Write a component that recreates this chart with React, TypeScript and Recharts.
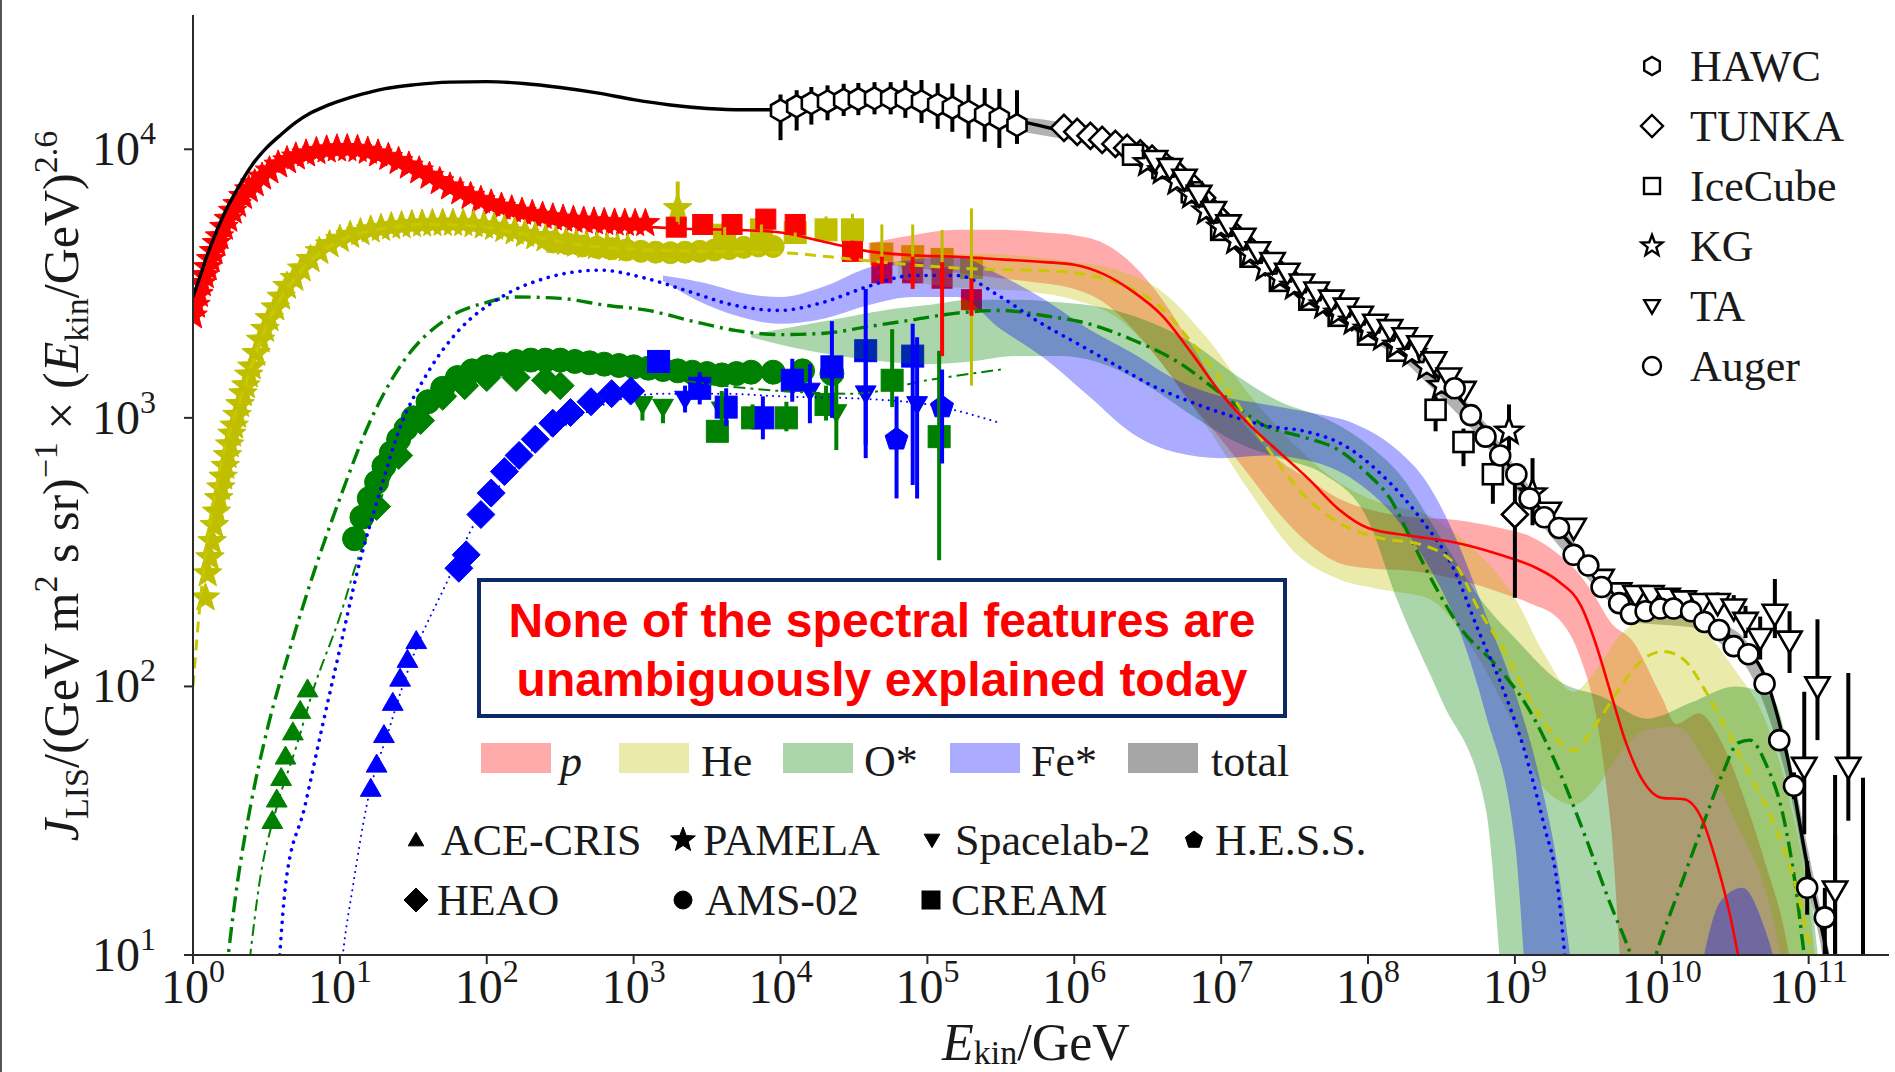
import React from "react";
import { ComposedChart, XAxis, YAxis, Line, Area, Scatter, ErrorBar } from "recharts";

const SERIF = "'Liberation Serif', 'Times New Roman', 'DejaVu Serif', serif";
const SANS = "'Liberation Sans', Arial, 'DejaVu Sans', sans-serif";

// ---------- axes (values are log10 exponents) ----------
const X_TICK_EXP = [0, 1, 2, 3, 4, 5, 6, 7, 8, 9, 10, 11];
const Y_TICK_EXP = [1, 2, 3, 4];
const Y_MINOR_MULT = [2, 3, 4, 5, 6, 7, 8, 9];
const X_DOMAIN_EXP = [0, 11.547];
const Y_DOMAIN_EXP = [1, 4.5];

// ---------- model lines  [log10 E, log10 J] ----------
const TOTAL_LINE = [[0.0,3.45],[0.05,3.53],[0.1,3.61],[0.15,3.68],[0.2,3.745],[0.3,3.85],[0.4,3.94],[0.5,4.005],[0.6,4.055],[0.7,4.1],[0.8,4.135],[0.9,4.16],[1.0,4.18],[1.15,4.205],[1.3,4.225],[1.5,4.24],[1.75,4.25],[2.0,4.252],[2.25,4.245],[2.5,4.23],[2.75,4.21],[3.0,4.185],[3.25,4.165],[3.5,4.152],[3.75,4.147],[4.0,4.147],[4.25,4.16],[4.5,4.175],[4.75,4.18],[5.0,4.172],[5.25,4.155],[5.5,4.12],[5.75,4.09],[6.0,4.055],[6.25,4.01],[6.5,3.96],[6.75,3.88],[7.0,3.72],[7.25,3.6],[7.5,3.5],[7.75,3.42],[8.0,3.33],[8.25,3.25],[8.5,3.14],[8.75,2.99],[9.0,2.79],[9.25,2.61],[9.5,2.46],[9.75,2.31],[10.0,2.27],[10.25,2.25],[10.5,2.17],[10.7,2.04],[10.85,1.75],[11.0,1.31],[11.1,1.07],[11.2,0.8]];
const P_LINE = [[0.0,3.38],[0.15,3.63],[0.3,3.79],[0.5,3.91],[0.7,3.972],[0.9,3.998],[1.1,4.0],[1.3,3.975],[1.5,3.93],[1.7,3.875],[1.9,3.82],[2.1,3.785],[2.4,3.75],[2.7,3.73],[3.0,3.715],[3.3,3.705],[3.7,3.7],[4.0,3.69],[4.3,3.655],[4.6,3.62],[4.9,3.605],[5.2,3.6],[5.5,3.59],[5.8,3.58],[6.0,3.57],[6.2,3.535],[6.4,3.47],[6.6,3.38],[6.8,3.24],[7.0,3.09],[7.2,2.97],[7.4,2.87],[7.6,2.77],[7.8,2.66],[8.0,2.59],[8.3,2.56],[8.6,2.535],[8.9,2.49],[9.15,2.44],[9.3,2.39],[9.45,2.3],[9.55,2.16],[9.65,1.98],[9.75,1.8],[9.87,1.65],[10.0,1.585],[10.15,1.58],[10.27,1.51],[10.38,1.33],[10.46,1.16],[10.52,1.0],[10.6,0.8]];
const HE_LINE = [[0.0,2.0],[0.05,2.32],[0.1,2.55],[0.2,2.85],[0.33,3.08],[0.49,3.33],[0.74,3.55],[1.0,3.66],[1.3,3.705],[1.6,3.72],[1.9,3.715],[2.2,3.69],[2.5,3.655],[2.8,3.635],[3.1,3.625],[3.5,3.62],[4.0,3.615],[4.5,3.59],[5.0,3.565],[5.3,3.555],[5.7,3.55],[6.0,3.54],[6.3,3.5],[6.55,3.43],[6.8,3.28],[7.05,3.1],[7.3,2.9],[7.55,2.72],[7.8,2.61],[8.1,2.55],[8.35,2.53],[8.6,2.45],[8.75,2.29],[8.92,2.14],[9.09,1.96],[9.26,1.82],[9.4,1.76],[9.54,1.85],[9.71,1.99],[9.87,2.1],[10.01,2.13],[10.15,2.1],[10.29,1.99],[10.43,1.85],[10.6,1.67],[10.77,1.48],[10.91,1.26],[11.02,1.0],[11.1,0.8]];
const OSTAR_LINE = [[0.18,0.7],[0.24,1.0],[0.3,1.26],[0.39,1.55],[0.51,1.85],[0.66,2.14],[0.82,2.42],[1.0,2.7],[1.2,2.98],[1.42,3.2],[1.73,3.37],[2.0,3.43],[2.2,3.45],[2.5,3.445],[2.8,3.42],[3.1,3.4],[3.4,3.36],[3.7,3.325],[4.0,3.31],[4.3,3.315],[4.6,3.34],[4.9,3.365],[5.2,3.39],[5.5,3.4],[5.8,3.38],[6.1,3.35],[6.4,3.29],[6.7,3.21],[7.0,3.09],[7.3,2.97],[7.55,2.93],[7.8,2.88],[8.0,2.79],[8.15,2.7],[8.3,2.54],[8.47,2.36],[8.64,2.21],[8.87,2.08],[9.09,1.92],[9.29,1.7],[9.48,1.44],[9.65,1.19],[9.79,1.0],[9.88,0.85],[9.96,1.0],[10.13,1.26],[10.27,1.47],[10.41,1.67],[10.52,1.79],[10.6,1.8],[10.71,1.71],[10.83,1.51],[10.91,1.26],[10.97,1.0],[11.05,0.7]];
const O_LINE = [[0.33,0.7],[0.39,1.0],[0.45,1.26],[0.57,1.55],[0.7,1.77],[0.82,1.99],[1.0,2.26],[1.12,2.47],[1.25,2.66],[1.45,2.9],[1.7,3.07],[2.0,3.16],[2.4,3.19],[2.8,3.18],[3.2,3.15],[3.6,3.12],[4.0,3.1],[4.5,3.09],[5.0,3.14],[5.5,3.18]];
const FESTAR_LINE = [[0.55,0.7],[0.59,1.0],[0.63,1.26],[0.76,1.55],[0.88,1.85],[1.0,2.14],[1.12,2.43],[1.27,2.72],[1.4,2.95],[1.6,3.17],[1.8,3.32],[2.1,3.45],[2.4,3.52],[2.77,3.55],[3.08,3.52],[3.38,3.47],[3.68,3.42],[3.99,3.4],[4.29,3.43],[4.6,3.49],[4.9,3.53],[5.2,3.53],[5.5,3.45],[5.75,3.36],[6.01,3.28],[6.27,3.2],[6.53,3.12],[6.79,3.06],[7.05,3.01],[7.31,2.97],[7.57,2.95],[7.83,2.9],[8.09,2.79],[8.35,2.63],[8.59,2.43],[8.75,2.21],[8.92,1.99],[9.06,1.77],[9.2,1.48],[9.29,1.26],[9.34,1.0],[9.4,0.7]];
const FE_LINE = [[0.97,0.7],[1.02,1.0],[1.09,1.26],[1.18,1.55],[1.34,1.85],[1.49,2.1],[1.73,2.39],[1.91,2.6],[2.2,2.82],[2.5,2.96],[2.8,3.05],[3.2,3.09],[3.6,3.09],[4.0,3.08],[4.6,3.07],[5.0,3.05],[5.5,2.98]];

// ---------- uncertainty bands  [log10 E, log10 low, log10 high] ----------
const P_BAND = [[4.6,3.58,3.65],[4.9,3.56,3.68],[5.2,3.54,3.7],[5.5,3.52,3.7],[5.8,3.5,3.69],[6.0,3.48,3.68],[6.2,3.43,3.65],[6.4,3.33,3.57],[6.6,3.2,3.44],[6.8,3.05,3.27],[7.0,2.92,3.09],[7.2,2.78,2.95],[7.4,2.64,2.84],[7.6,2.53,2.77],[7.8,2.46,2.7],[8.0,2.44,2.66],[8.3,2.43,2.63],[8.6,2.4,2.62],[8.9,2.35,2.59],[9.1,2.31,2.56],[9.3,2.25,2.49],[9.45,2.1,2.41],[9.55,1.9,2.33],[9.65,1.5,2.24],[9.8,0.5,2.17],[10.0,0.5,1.96],[10.1,0.5,1.86],[10.25,0.5,1.9],[10.4,0.5,1.8],[10.55,0.5,1.6],[10.7,0.5,1.35],[10.85,0.5,1.05],[10.95,0.5,0.7]];
const HE_BAND = [[4.8,3.52,3.58],[5.1,3.49,3.61],[5.4,3.48,3.61],[5.7,3.47,3.6],[6.0,3.44,3.58],[6.3,3.37,3.55],[6.6,3.2,3.47],[6.9,2.97,3.3],[7.2,2.72,3.08],[7.5,2.5,2.9],[7.8,2.4,2.76],[8.1,2.36,2.68],[8.4,2.33,2.64],[8.7,2.15,2.52],[9.0,1.85,2.33],[9.2,1.62,2.12],[9.4,1.56,1.98],[9.55,1.62,2.06],[9.7,1.74,2.18],[9.9,1.84,2.26],[10.1,1.85,2.28],[10.3,1.72,2.2],[10.5,1.5,2.06],[10.7,1.25,1.88],[10.85,0.9,1.62],[11.0,0.5,1.2],[11.08,0.5,0.8]];
const O_BAND = [[3.8,3.3,3.31],[4.1,3.26,3.34],[4.4,3.23,3.37],[4.7,3.21,3.4],[5.0,3.2,3.42],[5.3,3.21,3.44],[5.6,3.23,3.44],[5.9,3.23,3.43],[6.2,3.2,3.41],[6.5,3.12,3.36],[6.8,3.01,3.28],[7.1,2.91,3.16],[7.4,2.85,3.06],[7.7,2.79,3.0],[8.0,2.62,2.9],[8.2,2.32,2.8],[8.5,1.95,2.55],[8.8,1.55,2.3],[9.0,0.5,2.18],[9.3,0.5,2.02],[9.6,0.5,1.96],[9.9,0.5,1.88],[10.2,0.5,1.94],[10.5,0.5,2.0],[10.75,0.5,1.96],[10.9,0.5,1.65],[11.0,0.5,1.3],[11.1,0.5,0.8]];
const FE_BAND = [[3.2,3.51,3.53],[3.5,3.42,3.5],[3.7,3.38,3.47],[4.0,3.35,3.45],[4.3,3.37,3.49],[4.6,3.42,3.56],[4.9,3.45,3.59],[5.2,3.45,3.6],[5.5,3.33,3.53],[5.8,3.22,3.44],[6.1,3.08,3.33],[6.4,2.94,3.24],[6.7,2.87,3.14],[7.0,2.85,3.08],[7.3,2.86,3.05],[7.6,2.84,3.02],[7.9,2.77,2.98],[8.2,2.62,2.88],[8.4,2.46,2.76],[8.6,2.24,2.55],[8.8,1.9,2.27],[9.0,1.42,1.98],[9.15,0.5,1.7],[9.3,0.5,1.3],[9.42,0.5,0.8]];
const FE_BAND_HIGH = [[10.25,0.5,0.9],[10.4,0.5,1.2],[10.55,0.5,1.25],[10.7,0.5,1.1],[10.85,0.5,0.8]];
const TOTAL_BAND = [[5.4,4.1,4.14],[5.6,4.07,4.12],[5.8,4.05,4.11],[6.0,4.03,4.09],[6.2,4.0,4.06],[6.4,3.96,4.02],[6.6,3.9,3.97],[6.8,3.81,3.89],[7.0,3.68,3.76],[7.2,3.58,3.65],[7.4,3.49,3.56],[7.6,3.42,3.49],[7.8,3.36,3.43],[8.0,3.29,3.36],[8.2,3.23,3.3],[8.4,3.13,3.21],[8.6,3.02,3.1],[8.8,2.9,2.98],[9.0,2.74,2.82],[9.2,2.59,2.67],[9.4,2.46,2.54],[9.6,2.34,2.42],[9.8,2.24,2.32],[10.0,2.23,2.31],[10.2,2.22,2.3],[10.4,2.16,2.24],[10.6,2.05,2.15],[10.8,1.76,1.88],[10.9,1.54,1.66],[11.0,1.25,1.38],[11.1,0.98,1.12],[11.15,0.8,0.98]];

// ---------- direct measurements [log10 E, log10 J, (err low, err high)] ----------
const PAMELA_P = [[0.0,3.38],[0.02,3.42],[0.04,3.46],[0.06,3.5],[0.08,3.53],[0.1,3.56],[0.12,3.59],[0.14,3.62],[0.16,3.65],[0.18,3.675],[0.21,3.71],[0.24,3.74],[0.27,3.77],[0.3,3.795],[0.34,3.825],[0.38,3.85],[0.42,3.872],[0.47,3.897],[0.52,3.92],[0.58,3.942],[0.64,3.958],[0.7,3.972],[0.77,3.983],[0.84,3.992],[0.91,3.998],[0.98,4.002],[1.05,4.003],[1.12,4.0],[1.19,3.993],[1.26,3.983],[1.33,3.97],[1.4,3.955],[1.47,3.938],[1.54,3.92],[1.61,3.9],[1.68,3.88],[1.75,3.86],[1.82,3.842],[1.89,3.825],[1.96,3.81],[2.03,3.797],[2.1,3.785],[2.17,3.775],[2.24,3.766],[2.31,3.758],[2.38,3.751],[2.45,3.745],[2.52,3.74],[2.59,3.736],[2.66,3.733],[2.73,3.73],[2.8,3.728],[2.87,3.726],[2.94,3.725],[3.01,3.724],[3.08,3.724]];
const PAMELA_HE = [[0.085,2.33],[0.1,2.42],[0.115,2.48],[0.13,2.54],[0.145,2.6],[0.16,2.65],[0.175,2.7],[0.19,2.74],[0.205,2.78],[0.22,2.82],[0.235,2.86],[0.25,2.9],[0.265,2.94],[0.28,2.97],[0.3,3.01],[0.32,3.05],[0.34,3.09],[0.36,3.12],[0.38,3.16],[0.4,3.19],[0.43,3.24],[0.46,3.29],[0.49,3.33],[0.52,3.37],[0.56,3.41],[0.6,3.45],[0.64,3.49],[0.69,3.52],[0.74,3.555],[0.8,3.59],[0.86,3.62],[0.93,3.645],[1.0,3.665],[1.07,3.68],[1.14,3.69],[1.21,3.7],[1.28,3.706],[1.35,3.712],[1.42,3.716],[1.49,3.72],[1.56,3.722],[1.63,3.724],[1.7,3.725],[1.77,3.725],[1.84,3.724],[1.91,3.72],[1.98,3.715],[2.05,3.71],[2.12,3.702],[2.19,3.693],[2.26,3.684],[2.33,3.675],[2.4,3.667],[2.47,3.66],[2.54,3.653],[2.61,3.647],[2.68,3.642],[2.75,3.638],[2.82,3.635],[2.89,3.632],[2.96,3.63]];
const PAMELA_HE_HIGH = [[3.3,3.78,3.72,3.88]];
const AMS_HE = [[2.45,3.655],[2.55,3.648],[2.65,3.64],[2.75,3.635],[2.85,3.63],[2.95,3.625],[3.05,3.62],[3.15,3.617],[3.25,3.615],[3.35,3.617],[3.45,3.62],[3.55,3.625],[3.65,3.63],[3.75,3.635],[3.85,3.64],[3.95,3.638]];
const CREAM_HE = [[3.62,3.68,3.66,3.71],[3.87,3.7,3.68,3.72],[4.1,3.69,3.67,3.72],[4.31,3.7,3.66,3.75],[4.49,3.7,3.63,3.76],[4.69,3.61,3.57,3.72],[4.9,3.6,3.55,3.72],[5.1,3.59,3.52,3.7],[5.3,3.56,3.12,3.78]];
const CREAM_P = [[3.29,3.71,3.69,3.73],[3.47,3.72,3.7,3.74],[3.67,3.72,3.7,3.75],[3.9,3.74,3.71,3.77],[4.1,3.72,3.69,3.75],[4.49,3.62,3.59,3.66],[4.69,3.54,3.5,3.6],[4.9,3.54,3.48,3.6],[5.1,3.52,3.23,3.58],[5.3,3.44,3.38,3.52]];
const AMS_O = [[1.1,2.55],[1.15,2.63],[1.2,2.7],[1.25,2.76],[1.3,2.82],[1.35,2.87],[1.4,2.92],[1.45,2.96],[1.5,3.0],[1.6,3.06],[1.7,3.11],[1.8,3.15],[1.9,3.175],[2.0,3.19],[2.1,3.2],[2.2,3.21],[2.3,3.215],[2.4,3.215],[2.5,3.215],[2.6,3.21],[2.7,3.205],[2.8,3.2],[2.9,3.195],[3.0,3.19],[3.1,3.185],[3.2,3.18],[3.3,3.175],[3.4,3.17],[3.5,3.165],[3.6,3.16],[3.7,3.165],[3.8,3.17],[3.95,3.17],[4.15,3.175],[4.35,3.165]];
const HEAO_O = [[1.25,2.67],[1.4,2.86],[1.55,2.99],[1.7,3.08],[1.85,3.12],[2.0,3.15],[2.2,3.15],[2.4,3.14],[2.5,3.12]];
const ACE_O = [[0.54,1.5],[0.57,1.58],[0.6,1.66],[0.63,1.74],[0.68,1.83],[0.73,1.91],[0.78,1.99]];
const CREAM_O = [[3.57,2.95,2.92,2.99],[3.81,3.0,2.96,3.05],[4.04,3.0,2.95,3.06],[4.31,3.05,2.99,3.12],[4.76,3.14,3.04,3.33],[5.08,2.93,2.47,3.25]];
const SPACELAB_O = [[3.06,3.05,2.99,3.08],[3.2,3.04,2.98,3.07],[3.6,3.03,2.97,3.1],[4.38,3.02,2.88,3.13]];
const ACE_FE = [[1.21,1.62],[1.25,1.71],[1.3,1.82],[1.36,1.94],[1.41,2.03],[1.46,2.1],[1.52,2.17]];
const HEAO_FE = [[1.81,2.44],[1.86,2.49],[1.96,2.64],[2.03,2.72],[2.12,2.8],[2.22,2.86],[2.33,2.92],[2.45,2.98],[2.57,3.02],[2.71,3.06],[2.85,3.09],[2.98,3.1]];
const CREAM_FE = [[3.17,3.21,3.17,3.25],[3.45,3.11,3.05,3.17],[3.63,3.04,2.97,3.11],[3.88,3.0,2.92,3.08],[4.08,3.14,3.06,3.22],[4.35,3.19,3.0,3.36],[4.58,3.25,2.9,3.48],[4.9,3.23,2.75,3.35]];
const SPACELAB_FE = [[3.35,3.07,3.02,3.12],[4.2,3.1,2.98,3.2],[4.58,3.09,2.85,3.28],[4.93,3.05,2.7,3.3]];
const HESS_FE = [[4.79,2.92,2.7,3.08],[5.1,3.04,2.83,3.18]];

// ---------- air-shower data ----------
const HAWC = [[4.0,4.144,4.034,4.204],[4.11,4.16,4.07,4.22],[4.21,4.172,4.092,4.232],[4.32,4.178,4.108,4.238],[4.43,4.184,4.124,4.244],[4.53,4.187,4.127,4.247],[4.64,4.19,4.13,4.25],[4.75,4.19,4.13,4.25],[4.85,4.187,4.117,4.257],[4.96,4.178,4.098,4.258],[5.07,4.166,4.076,4.246],[5.17,4.155,4.065,4.245],[5.28,4.14,4.04,4.24],[5.39,4.128,4.028,4.228],[5.49,4.115,4.005,4.225],[5.61,4.09,4.02,4.22]];
const TUNKA = [[5.93,4.08,4.08,4.08],[6.02,4.065,4.065,4.065],[6.11,4.05,4.05,4.05],[6.19,4.035,4.035,4.035],[6.28,4.02,4.02,4.02],[6.36,4.005,4.005,4.005],[6.45,3.985,3.985,3.985],[6.53,3.965,3.965,3.965],[6.62,3.94,3.94,3.94],[6.7,3.91,3.91,3.91],[6.79,3.87,3.87,3.87],[6.87,3.82,3.82,3.82],[6.96,3.76,3.76,3.76],[7.04,3.71,3.71,3.71],[7.13,3.66,3.66,3.66],[7.21,3.62,3.62,3.62],[7.3,3.58,3.58,3.58],[7.38,3.55,3.55,3.55],[7.47,3.515,3.515,3.515],[7.55,3.485,3.485,3.485],[7.64,3.455,3.455,3.455],[7.72,3.43,3.43,3.43],[7.81,3.4,3.4,3.4],[7.89,3.375,3.375,3.375],[7.98,3.345,3.345,3.345],[9.0,2.64,2.33,2.78]];
const KG = [[6.5,3.95,3.95,3.95],[6.6,3.92,3.92,3.92],[6.7,3.88,3.88,3.88],[6.8,3.83,3.83,3.83],[6.9,3.77,3.77,3.77],[7.0,3.71,3.71,3.71],[7.1,3.66,3.66,3.66],[7.2,3.61,3.61,3.61],[7.3,3.56,3.56,3.56],[7.4,3.52,3.52,3.52],[7.5,3.49,3.49,3.49],[7.6,3.45,3.45,3.45],[7.7,3.42,3.42,3.42],[7.8,3.39,3.39,3.39],[7.9,3.36,3.36,3.36],[8.0,3.33,3.33,3.33],[8.1,3.3,3.3,3.3],[8.2,3.27,3.27,3.27],[8.3,3.24,3.24,3.24],[8.4,3.19,3.16,3.22],[8.5,3.12,3.09,3.16],[8.96,2.95,2.88,3.05],[9.12,2.72,2.6,2.85]];
const TA = [[6.55,3.96],[6.65,3.93],[6.75,3.89],[6.85,3.83],[6.95,3.77],[7.05,3.72],[7.15,3.67],[7.25,3.62],[7.35,3.58],[7.45,3.54],[7.55,3.5],[7.65,3.47],[7.75,3.44],[7.85,3.41],[7.95,3.38],[8.05,3.35],[8.15,3.33],[8.25,3.3],[8.35,3.27],[8.45,3.21],[8.55,3.15],[8.65,3.1],[9.23,2.65],[9.4,2.59],[9.59,2.4],[9.71,2.35],[9.82,2.34],[9.93,2.34],[10.04,2.33],[10.15,2.32],[10.27,2.31]];
const TA_ERR = [[10.38,2.31,2.27,2.35],[10.49,2.29,2.25,2.34],[10.57,2.24,2.18,2.3],[10.67,2.18,2.1,2.26],[10.77,2.27,2.18,2.4],[10.87,2.17,2.05,2.28],[10.97,1.7,1.45,1.98],[11.06,2.0,1.8,2.25],[11.18,1.24,1.0,1.45],[11.27,1.7,1.5,2.05]];
const ICECUBE = [[6.4,3.98,3.98,3.98],[6.6,3.93,3.93,3.93],[6.8,3.84,3.84,3.84],[7.0,3.7,3.7,3.7],[7.2,3.6,3.6,3.6],[7.4,3.51,3.51,3.51],[7.6,3.44,3.44,3.44],[7.8,3.38,3.38,3.38],[8.0,3.31,3.31,3.31],[8.2,3.25,3.25,3.25],[8.46,3.03,2.95,3.08],[8.65,2.91,2.82,2.96],[8.85,2.79,2.68,2.84]];
const AUGER = [[8.59,3.11,3.11,3.11],[8.7,3.01,3.01,3.01],[8.8,2.93,2.93,2.93],[8.9,2.86,2.86,2.86],[9.01,2.79,2.79,2.79],[9.1,2.7,2.7,2.7],[9.2,2.63,2.63,2.63],[9.3,2.59,2.59,2.59],[9.4,2.49,2.49,2.49],[9.5,2.45,2.45,2.45],[9.59,2.37,2.37,2.37],[9.71,2.31,2.31,2.31],[9.79,2.27,2.27,2.27],[9.89,2.28,2.28,2.28],[9.99,2.29,2.29,2.29],[10.08,2.29,2.29,2.29],[10.2,2.28,2.28,2.28],[10.29,2.24,2.24,2.24],[10.39,2.21,2.2,2.22],[10.49,2.15,2.14,2.17],[10.59,2.12,2.1,2.14],[10.7,2.01,1.98,2.04],[10.8,1.8,1.76,1.84],[10.9,1.63,1.58,1.68],[10.99,1.25,1.15,1.35],[11.11,1.14,1.0,1.25]];
const UPPER_LIMITS = [[11.18,1.3,1.0,1.67],[11.37,1.3,1.0,1.66]];

// ---------- legend texts ----------
const SHOWER_LEGEND = [["hex", "HAWC"], ["diamond", "TUNKA"], ["square", "IceCube"], ["star", "KG"], ["tridown", "TA"], ["circle", "Auger"]];
const BAND_LEGEND = [["p", "#ff0000", "p"], ["He", "#bfbf00", "He"], ["O", "#008000", "O*"], ["Fe", "#0000ff", "Fe*"], ["tot", "#000000", "total"]];
const DATA_LEGEND = [["tri", "ACE-CRIS"], ["star", "PAMELA"], ["tridown", "Spacelab-2"], ["pent", "H.E.S.S."], ["diamond", "HEAO"], ["circle", "AMS-02"], ["square", "CREAM"]];
const NOTE_LINES = ["None of the spectral features are", "unambiguously explained today"];

// ---------- colours ----------
const COL = { p: "#ff0000", he: "#bfbf00", o: "#008000", fe: "#0000ff", tot: "#000000" };

// ---------- table builders ----------
const pw = (v: number) => Math.pow(10, v);
const toLine = (a: number[][]) => a.map(([lx, ly]) => ({ x: pw(lx), y: pw(ly) }));
const toPts = (a: number[][]) =>
  a.map(([lx, ly, lo, hi]) => {
    const y = pw(ly);
    return { x: pw(lx), y, e: lo === undefined ? [0, 0] : [y - pw(lo), pw(hi) - y] };
  });
const toBand = (a: number[][]) => a.map(([lx, lo, hi]) => ({ x: pw(lx), r: [pw(lo), pw(hi)] }));

const X_DOMAIN = [pw(X_DOMAIN_EXP[0]), pw(X_DOMAIN_EXP[1])];
const Y_DOMAIN = [pw(Y_DOMAIN_EXP[0]), pw(Y_DOMAIN_EXP[1])];
const X_TICKS = X_TICK_EXP.map(pw);
const Y_TICKS = Y_TICK_EXP.map(pw);
const Y_MINOR = [1, 2, 3].flatMap((d) => Y_MINOR_MULT.map((m) => m * pw(d))).concat([2e4, 3e4]);

// ---------- markers ----------
function poly(n: number, cx: number, cy: number, r: number, rot: number, inner = 0) {
  const m = inner ? n * 2 : n;
  const out: string[] = [];
  for (let i = 0; i < m; i++) {
    const rr = inner && i % 2 === 1 ? r * inner : r;
    const a = ((rot + (360 / m) * i) * Math.PI) / 180;
    out.push(`${(cx + rr * Math.cos(a)).toFixed(2)},${(cy + rr * Math.sin(a)).toFixed(2)}`);
  }
  return out.join(" ");
}

function Marker({ kind, cx, cy, r, fill, stroke, sw }: any) {
  const st = { fill, stroke, strokeWidth: sw, strokeLinejoin: "miter" as const };
  switch (kind) {
    case "circle":
      return <circle cx={cx} cy={cy} r={r} {...st} />;
    case "square":
      return <rect x={cx - r} y={cy - r} width={2 * r} height={2 * r} {...st} />;
    case "diamond":
      return <polygon points={poly(4, cx, cy, r, -90)} {...st} />;
    case "tri":
      return <polygon points={poly(3, cx, cy + r * 0.15, r, -90)} {...st} />;
    case "tridown":
      return <polygon points={poly(3, cx, cy - r * 0.15, r, 90)} {...st} />;
    case "star":
      return <polygon points={poly(5, cx, cy, r, -90, 0.42)} {...st} />;
    case "pent":
      return <polygon points={poly(5, cx, cy, r, -90)} {...st} />;
    case "hex":
      return <polygon points={poly(6, cx, cy, r, -90)} {...st} />;
    default:
      return <g />;
  }
}

const shape = (kind: string, r: number, fill: string, stroke: string, sw: number) => (p: any) => {
  if (p == null || !Number.isFinite(p.cx) || !Number.isFinite(p.cy)) return <g />;
  return <Marker kind={kind} cx={p.cx} cy={p.cy} r={r} fill={fill} stroke={stroke} sw={sw} />;
};
const noShape = () => <g />;

// ---------- ticks ----------
const XTick = (p: any) => {
  const e = Math.round(Math.log10(p.payload.value));
  return (
    <text x={p.x} y={1003} textAnchor="middle" fontFamily={SERIF} fontSize={48} fill="#1a1a1a">
      10<tspan dy={-21} fontSize={32}>{e}</tspan>
    </text>
  );
};
const YTick = (p: any) => {
  const e = Math.round(Math.log10(p.payload.value));
  return (
    <text x={156} y={p.y + 16} textAnchor="end" fontFamily={SERIF} fontSize={48} fill="#1a1a1a">
      10<tspan dy={-21} fontSize={32}>{e}</tspan>
    </text>
  );
};

const AX = { stroke: "#2a2a2a", strokeWidth: 2 };
const Z_DATA = 50;
const Z_BAND = 100;
const Z_LINE = 400;
const Z_SHOWER = 600;

export default function App() {
  const common = { xAxisId: "b", yAxisId: "l", isAnimationActive: false, legendType: "none" as const };
  const lineProps = { ...common, type: "monotone" as const, dataKey: "y", dot: false, activeDot: false, zIndex: Z_LINE };
  const bandProps = { ...common, type: "monotone" as const, dataKey: "r", stroke: "none", fillOpacity: 0.33, zIndex: Z_BAND };
  const sc = { ...common, dataKey: "y", zIndex: Z_DATA };
  const sh = { ...common, dataKey: "y", zIndex: Z_SHOWER };
  const eb = (color: string, w = 4) => <ErrorBar dataKey="e" direction="y" width={0} stroke={color} strokeWidth={w} />;

  return (
    <div style={{ position: "absolute", left: 0, top: 0, width: 1895, height: 1072, background: "#fff", overflow: "hidden" }}>
      <div style={{ position: "absolute", left: 0, top: 0, width: 2, height: 1072, background: "#555" }} />
      <ComposedChart width={1895} height={1072} margin={{ top: 15, right: 6, bottom: 37, left: 43 }}>
        <XAxis xAxisId="b" type="number" dataKey="x" scale="log" domain={X_DOMAIN} allowDataOverflow ticks={X_TICKS} interval={0} tick={(p: any) => <XTick {...p} />} tickSize={9} height={80} axisLine={AX} tickLine={AX} />
        <XAxis xAxisId="t" orientation="top" type="number" dataKey="x" scale="log" domain={X_DOMAIN} allowDataOverflow ticks={X_TICKS} interval={0} tick={false} tickSize={9} height={0} axisLine={AX} tickLine={AX} />
        <YAxis yAxisId="l" type="number" dataKey="y" scale="log" domain={Y_DOMAIN} allowDataOverflow ticks={Y_TICKS} interval={0} tick={(p: any) => <YTick {...p} />} tickSize={9} width={150} axisLine={AX} tickLine={AX} />
        <YAxis yAxisId="lm" type="number" dataKey="y" scale="log" domain={Y_DOMAIN} allowDataOverflow ticks={Y_MINOR} interval={0} tick={false} tickSize={5} width={0} axisLine={false} tickLine={{ stroke: "#2a2a2a", strokeWidth: 1.5 }} />
        <YAxis yAxisId="r" orientation="right" type="number" dataKey="y" scale="log" domain={Y_DOMAIN} allowDataOverflow ticks={Y_TICKS} interval={0} tick={false} tickSize={9} width={0} axisLine={AX} tickLine={AX} />
        <YAxis yAxisId="rm" orientation="right" type="number" dataKey="y" scale="log" domain={Y_DOMAIN} allowDataOverflow ticks={Y_MINOR} interval={0} tick={false} tickSize={5} width={0} axisLine={false} tickLine={{ stroke: "#2a2a2a", strokeWidth: 1.5 }} />

        {/* direct measurements (beneath the bands, which tint them) */}
        <Scatter {...sc} data={toPts(PAMELA_P)} fill={COL.p} shape={shape("star", 15, COL.p, COL.p, 1)} />
        <Scatter {...sc} data={toPts(PAMELA_HE)} fill={COL.he} shape={shape("star", 15, COL.he, COL.he, 1)} />
        <Scatter {...sc} data={toPts(PAMELA_HE_HIGH)} fill={COL.he} shape={shape("star", 15, COL.he, COL.he, 1)}>{eb(COL.he)}</Scatter>
        <Scatter {...sc} data={toPts(AMS_HE)} fill={COL.he} shape={shape("circle", 11, COL.he, COL.he, 1)} />
        <Scatter {...sc} data={toPts(AMS_O)} fill={COL.o} shape={shape("circle", 12, COL.o, COL.o, 1)} />
        <Scatter {...sc} data={toPts(HEAO_O)} fill={COL.o} shape={shape("diamond", 14, COL.o, COL.o, 1)} />
        <Scatter {...sc} data={toPts(ACE_O)} fill={COL.o} shape={shape("tri", 12, COL.o, COL.o, 1)} />
        <Scatter {...sc} data={toPts(SPACELAB_O)} fill={COL.o} shape={shape("tridown", 12, COL.o, COL.o, 1)}>{eb(COL.o)}</Scatter>
        <Scatter {...sc} data={toPts(CREAM_O)} fill={COL.o} shape={shape("square", 11, COL.o, COL.o, 1)}>{eb(COL.o)}</Scatter>
        <Scatter {...sc} data={toPts(ACE_FE)} fill={COL.fe} shape={shape("tri", 12, COL.fe, COL.fe, 1)} />
        <Scatter {...sc} data={toPts(HEAO_FE)} fill={COL.fe} shape={shape("diamond", 14, COL.fe, COL.fe, 1)} />
        <Scatter {...sc} data={toPts(SPACELAB_FE)} fill={COL.fe} shape={shape("tridown", 12, COL.fe, COL.fe, 1)}>{eb(COL.fe)}</Scatter>
        <Scatter {...sc} data={toPts(HESS_FE)} fill={COL.fe} shape={shape("pent", 12, COL.fe, COL.fe, 1)}>{eb(COL.fe)}</Scatter>
        <Scatter {...sc} data={toPts(CREAM_FE)} fill={COL.fe} shape={shape("square", 11, COL.fe, COL.fe, 1)}>{eb(COL.fe)}</Scatter>
        <Scatter {...sc} data={toPts(CREAM_HE)} fill={COL.he} shape={shape("square", 11, COL.he, COL.he, 1)}>{eb(COL.he, 3)}</Scatter>
        <Scatter {...sc} data={toPts(CREAM_P)} fill={COL.p} shape={shape("square", 10, COL.p, COL.p, 1)}>{eb(COL.p)}</Scatter>

        {/* model uncertainty bands */}
        <Area {...bandProps} data={toBand(TOTAL_BAND)} fill={COL.tot} fillOpacity={0.3} />
        <Area {...bandProps} data={toBand(P_BAND)} fill={COL.p} />
        <Area {...bandProps} data={toBand(HE_BAND)} fill={COL.he} />
        <Area {...bandProps} data={toBand(O_BAND)} fill={COL.o} />
        <Area {...bandProps} data={toBand(FE_BAND)} fill={COL.fe} />
        <Area {...bandProps} data={toBand(FE_BAND_HIGH)} fill={COL.fe} />

        {/* model lines */}
        <Line {...lineProps} data={toLine(O_LINE)} stroke={COL.o} strokeWidth={2} strokeDasharray="12 5 3 5" />
        <Line {...lineProps} data={toLine(FE_LINE)} stroke={COL.fe} strokeWidth={2} strokeDasharray="0.1 6" strokeLinecap="round" />
        <Line {...lineProps} data={toLine(OSTAR_LINE)} stroke={COL.o} strokeWidth={3.4} strokeDasharray="16 6 3 6" />
        <Line {...lineProps} data={toLine(FESTAR_LINE)} stroke={COL.fe} strokeWidth={3.6} strokeDasharray="0.1 8" strokeLinecap="round" />
        <Line {...lineProps} data={toLine(HE_LINE)} stroke="#c8c800" strokeWidth={3} strokeDasharray="11 7" />
        <Line {...lineProps} data={toLine(P_LINE)} stroke={COL.p} strokeWidth={2.6} />
        <Line {...lineProps} data={toLine(TOTAL_LINE)} stroke={COL.tot} strokeWidth={3.4} />

        {/* air-shower measurements */}
        <Scatter {...sh} data={toPts(UPPER_LIMITS)} fill="#000" shape={noShape}>{eb("#000", 4)}</Scatter>
        <Scatter {...sh} data={toPts(HAWC)} fill="#fff" shape={shape("hex", 11, "#fff", "#000", 2.6)}>{eb("#000", 4)}</Scatter>
        <Scatter {...sh} data={toPts(TUNKA)} fill="#fff" shape={shape("diamond", 13, "#fff", "#000", 2.6)}>{eb("#000", 4)}</Scatter>
        <Scatter {...sh} data={toPts(ICECUBE)} fill="#fff" shape={shape("square", 10, "#fff", "#000", 2.6)}>{eb("#000", 4)}</Scatter>
        <Scatter {...sh} data={toPts(KG)} fill="#fff" shape={shape("star", 14, "#fff", "#000", 2.6)}>{eb("#000", 4)}</Scatter>
        <Scatter {...sh} data={toPts(TA)} fill="#fff" shape={shape("tridown", 14, "#fff", "#000", 2.6)} />
        <Scatter {...sh} data={toPts(TA_ERR)} fill="#fff" shape={shape("tridown", 14, "#fff", "#000", 2.6)}>{eb("#000", 4)}</Scatter>
        <Scatter {...sh} data={toPts(AUGER)} fill="#fff" shape={shape("circle", 10, "#fff", "#000", 2.6)}>{eb("#000", 4)}</Scatter>
      </ComposedChart>

      {/* overlay: titles, legends, annotation */}
      <svg width={1895} height={1072} style={{ position: "absolute", left: 0, top: 0, pointerEvents: "none" }}>
        <text x={1036} y={1060} textAnchor="middle" fontFamily={SERIF} fontSize={52} fill="#1a1a1a">
          <tspan fontStyle="italic">E</tspan>
          <tspan dy={4} fontSize={34}>kin</tspan>
          <tspan dy={-4}>/GeV</tspan>
        </text>
        <g transform="translate(78,486) rotate(-90)">
          <text x={0} y={0} textAnchor="middle" fontFamily={SERIF} fontSize={50} fill="#1a1a1a">
            <tspan fontStyle="italic">J</tspan>
            <tspan dy={10} fontSize={34}>LIS</tspan>
            <tspan dy={-10}>/(GeV m</tspan>
            <tspan dy={-21} fontSize={34}>2</tspan>
            <tspan dy={21}> s sr)</tspan>
            <tspan dy={-21} fontSize={34}>−1</tspan>
            <tspan dy={21}> × (</tspan>
            <tspan fontStyle="italic">E</tspan>
            <tspan dy={10} fontSize={34}>kin</tspan>
            <tspan dy={-10}>/GeV)</tspan>
            <tspan dy={-21} fontSize={34}>2.6</tspan>
          </text>
        </g>

        {SHOWER_LEGEND.map(([k, label], i) => {
          const cy = 66 + i * 60;
          return (
            <g key={label}>
              <Marker kind={k} cx={1652} cy={cy} r={k === "square" ? 8 : k === "diamond" || k === "star" ? 11 : 9} fill="#fff" stroke="#000" sw={2.4} />
              <text x={1690} y={cy + 15} fontFamily={SERIF} fontSize={44} fill="#1a1a1a">{label}</text>
            </g>
          );
        })}

        <rect x={479} y={580} width={806} height={136} fill="#fff" stroke="#0e2a66" strokeWidth={4} />
        {NOTE_LINES.map((t, i) => (
          <text key={t} x={882} y={637 + i * 59} textAnchor="middle" fontFamily={SANS} fontWeight="bold" fontSize={48} fill="#ff0000">{t}</text>
        ))}

        {BAND_LEGEND.map(([k, c, label], i) => {
          const xs = [481, 619, 783, 950, 1128][i];
          const tx = [560, 701, 864, 1031, 1211][i];
          return (
            <g key={k}>
              <rect x={xs} y={743} width={70} height={30} fill={c} fillOpacity={k === "tot" ? 0.35 : 0.33} />
              <text x={tx} y={776} fontFamily={SERIF} fontSize={44} fontStyle={k === "p" ? "italic" : "normal"} fill="#1a1a1a">{label}</text>
            </g>
          );
        })}

        {DATA_LEGEND.map(([k, label], i) => {
          const pos = [[416, 441, 840], [683, 703, 840], [932, 955, 840], [1194, 1215, 840], [416, 437, 900], [683, 705, 900], [931, 951, 900]][i];
          const r = k === "star" ? 13 : k === "diamond" ? 12 : 9;
          return (
            <g key={label}>
              <Marker kind={k} cx={pos[0]} cy={pos[2]} r={r} fill="#000" stroke="#000" sw={1} />
              <text x={pos[1]} y={pos[2] + 15} fontFamily={SERIF} fontSize={44} fill="#1a1a1a">{label}</text>
            </g>
          );
        })}
      </svg>
    </div>
  );
}
